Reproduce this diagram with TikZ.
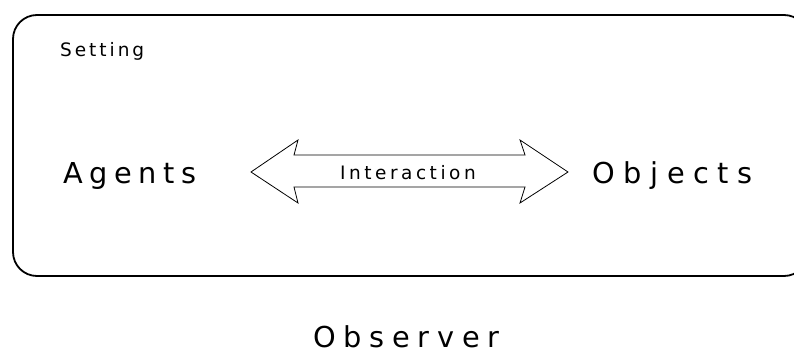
\documentclass[tikz,border=0pt]{standalone}
\usepackage{fontspec}
\setmainfont{DejaVu Sans}
\usetikzlibrary{calc}
\begin{document}
\begin{tikzpicture}[x=1pt,y=-1pt,
    label text/.style={inner sep=0pt, anchor=base west},
    big/.style={label text, font=\fontsize{28.8}{30}\selectfont},
    small/.style={label text, font=\fontsize{18.5}{20}\selectfont},
    frame/.style={draw, line width=1.8pt, rounded corners=24pt},
    arrowbody/.style={draw, line width=0.8pt, line join=miter}]
  \useasboundingbox (0,0) rectangle (794,355);

  % the setting frame, running off the right edge
  \draw[frame] (13,15) rectangle (808,276);
  \node[small] (setting) at (60,57) {\addfontfeatures{LetterSpace=16}Setting};

  % participants
  \node[big] (agents) at (63,184) {\addfontfeatures{LetterSpace=23}Agents};
  \node[big] (objects) at (592,184) {\addfontfeatures{LetterSpace=30}Objects};

  % the two-headed interaction arrow
  \coordinate (ltip) at (251,172);
  \coordinate (rtip) at (568,172);
  \draw[arrowbody] (ltip) -- ++(47,-32) -- ++(-4,15) -- ($(rtip)+(-43,-17)$)
    -- ++(-5,-15) -- (rtip) -- ++(-48,31) -- ++(5,-16)
    -- ($(ltip)+(43,15)$) -- ++(4,16) -- cycle;
  \node[small] (interaction) at (340,180) {\addfontfeatures{LetterSpace=19}Interaction};

  % the observer outside the setting
  \node[big] (observer) at (313,347) {\addfontfeatures{LetterSpace=27}Observer};
\end{tikzpicture}
\end{document}
